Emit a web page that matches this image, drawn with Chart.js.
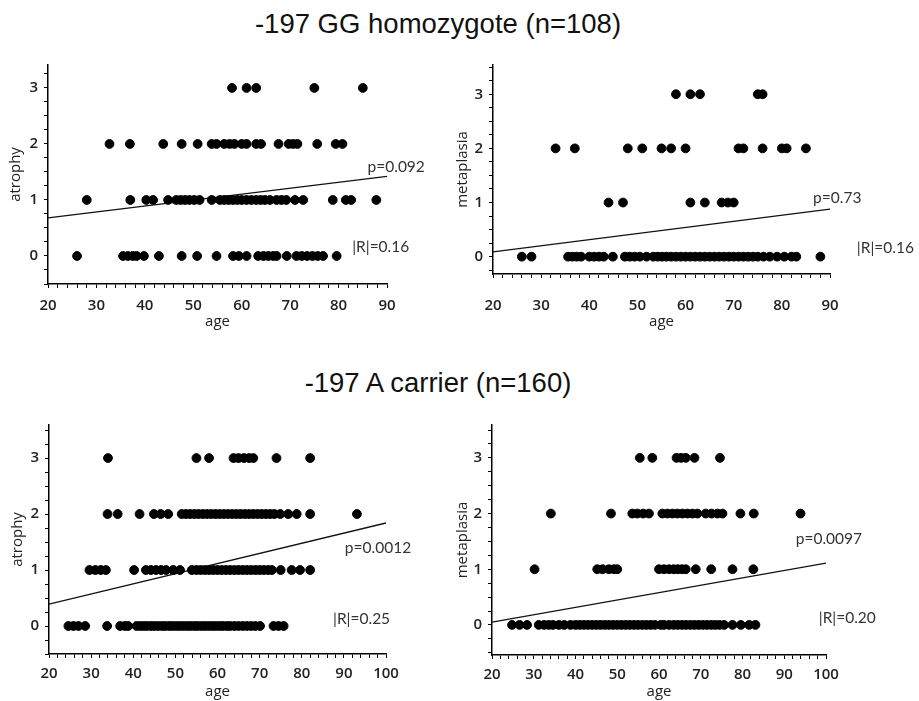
<!DOCTYPE html>
<html>
<head>
<meta charset="utf-8">
<script src="https://cdn.jsdelivr.net/npm/chart.js@4.4.1/dist/chart.umd.min.js"></script>
<style>
  body { margin: 0; background: #fff; width: 919px; height: 701px; position: relative; overflow: hidden; }
  .title { position: absolute; left: 0; width: 876px; text-align: center; font: 27.5px "Liberation Sans", Arial, sans-serif; line-height: 26px; color: #111; }
  .box { position: absolute; }
</style>
</head>
<body>
<div class="title" style="top:11px">-197 GG homozygote (n=108)</div>
<div class="title" style="top:370px">-197 A carrier (n=160)</div>
<div class="box" style="left:0;top:50px"><canvas id="c1" width="450" height="290"></canvas></div>
<div class="box" style="left:450px;top:50px"><canvas id="c2" width="469" height="290"></canvas></div>
<div class="box" style="left:0;top:410px"><canvas id="c3" width="450" height="291"></canvas></div>
<div class="box" style="left:450px;top:410px"><canvas id="c4" width="469" height="291"></canvas></div>
<script>
// ages at each grade (0..3)

// -197 GG homozygote, atrophy
const ggAtrophy0 = [26, 35.5, 36.5, 37.5, 38.3, 39.8, 42.9, 47.6, 50.8, 54.8, 58.2, 59.4, 61, 63.4, 64.5, 65.5, 66.5, 67.2, 69.3, 71.3, 72.4, 73.5, 74.6, 75.7, 76.8, 79.6]
const ggAtrophy1 = [28, 37, 40.3, 41.7, 44.8, 46.5, 47.4, 48.3, 49.2, 50.2, 51.3, 53.8, 55.5, 56.4, 57.3, 58.2, 59.1, 60, 61, 62, 63, 63.9, 64.8, 65.8, 67.2, 68.2, 69.2, 71, 72.7, 78.8, 81.5, 82.6, 87.8]
const ggAtrophy2 = [32.7, 36.9, 43.8, 47.6, 50.9, 53.8, 54.8, 56.4, 57.5, 58.5, 60, 61, 63, 64, 67.6, 69.7, 70.6, 71.5, 75.6, 79.4, 80.8]
const ggAtrophy3 = [58, 61, 63, 75, 85]
const ggAtrophyFit = [0.68, 1.42]

// -197 GG homozygote, metaplasia
const ggMeta0 = [26, 28, 35.6, 36.5, 37.4, 38.3, 40, 41, 42, 43, 44.9, 47.4, 48.4, 49.4, 50.5, 51.9, 53.3, 54.2, 55.1, 56, 57, 58, 59, 60, 61, 62, 63, 64, 65, 66, 67, 68, 69, 70, 71, 72, 73, 74, 75, 76.2, 77.5, 79, 80.5, 82, 83, 88]
const ggMeta1 = [44, 47, 61, 64, 67.5, 68.8, 70]
const ggMeta2 = [33, 37, 48, 51, 55, 57, 60, 71, 72, 76, 80, 81, 85]
const ggMeta3 = [58, 61, 63, 75, 76]
const ggMetaFit = [0.09, 0.88]

// -197 A carrier, atrophy
const aAtrophy0 = [24.6, 25.8, 27, 28.6, 33.8, 36.9, 38, 38.8, 40.8, 41.7, 42.5, 43.3, 44.2, 45, 45.9, 46.8, 47.6, 48.5, 49.3, 50.2, 51, 51.9, 52.8, 53.6, 54.5, 55.3, 56.2, 57, 57.9, 58.8, 59.6, 60.5, 61.3, 62.2, 63, 64, 65, 66, 67, 68, 69, 70.1, 73.3, 74.5, 75.7]
const aAtrophy1 = [29.6, 31, 32.3, 33.5, 40.2, 43, 44.2, 45.4, 46.6, 47.8, 49.5, 51.1, 53.9, 55, 56, 57, 58, 59, 60, 61, 62, 63, 64, 65, 66, 67, 68, 69, 70, 71, 72, 72.9, 75, 77.6, 79.6, 82]
const aAtrophy2 = [33.9, 36.3, 41.5, 44.9, 46.5, 48.3, 51.5, 52.5, 53.5, 54.5, 55.5, 56.5, 57.5, 58.5, 59.5, 60.5, 61.5, 62.5, 63.5, 64.5, 65.5, 66.5, 67.5, 68.5, 69.5, 70.5, 71.5, 72.5, 73.5, 74.9, 76.8, 78.8, 82, 93.1]
const aAtrophy3 = [34, 55, 58, 63.8, 65, 66.3, 67.5, 68.5, 74, 82]
const aAtrophyFit = [0.39, 1.84]

// -197 A carrier, metaplasia
const aMeta0 = [24.8, 26.6, 28.4, 31.2, 32.5, 33.6, 34.6, 36, 37.3, 38.8, 40, 41, 42, 43, 44, 45, 46, 47, 48, 49, 50, 51, 52, 53, 54, 55, 56, 57, 58, 59, 60.4, 61.2, 62.4, 63.5, 64.5, 65.5, 66.5, 67.5, 68.5, 69.5, 70.5, 71.5, 72.5, 73.5, 74.5, 75.6, 77.6, 79.6, 81.6, 83.1]
const aMeta1 = [30.2, 45.2, 46.5, 48, 49.2, 50, 60, 61.2, 62.4, 63.5, 64.5, 65.5, 66.4, 68.8, 72.5, 77.6, 82.6]
const aMeta2 = [34.1, 48.5, 53.6, 54.8, 56.2, 57.6, 60.8, 62, 63.2, 64.4, 65.6, 66.8, 68, 69.2, 71.2, 72.6, 74, 75.2, 79.5, 82.7, 93.9]
const aMeta3 = [55.4, 58.4, 64.2, 65.3, 66.4, 68.5, 74.6]
const aMetaFit = [0.05, 1.11]

const tickFont = {family: '"Open Sans", sans-serif', size: 15, weight: '600'}
const axisFont = {family: '"Open Sans", sans-serif', size: 15}
const noteFont = '15.5px Lato, "Open Sans", sans-serif'

// p value / |R| text, placed in data units of each panel
const notesPlugin = {
  id: 'notes',
  afterDatasetsDraw(chart, args, opts) {
    const {ctx, scales} = chart
    ctx.save()
    ctx.font = noteFont
    ctx.fillStyle = '#333'
    ctx.textAlign = 'center'
    ctx.textBaseline = 'middle'
    for (const n of opts.items || []) {
      ctx.fillText(n.text, scales.x.getPixelForValue(n.x), scales.y.getPixelForValue(n.y))
    }
    ctx.restore()
  }
}

function makePanel(id, o) {
  const points = o.rows.flatMap((ages, grade) => ages.map(a => ({x: a, y: grade})))
  return new Chart(document.getElementById(id), {
    type: 'scatter',
    data: {
      datasets: [
        {
          data: points,
          backgroundColor: '#000',
          borderColor: '#000',
          pointRadius: 4.4,
          pointHoverRadius: 4.4,
        },
        {
          type: 'line',
          data: [{x: o.xMin, y: o.fit[0]}, {x: o.xMax, y: o.fit[1]}],
          borderColor: '#111',
          borderWidth: 1.3,
          pointRadius: 0,
          fill: false,
        },
      ]
    },
    options: {
      responsive: false,
      animation: false,
      devicePixelRatio: 1,
      layout: {padding: {left: 0, right: o.padRight, top: o.padTop, bottom: 0}},
      plugins: {
        legend: {display: false},
        tooltip: {enabled: false},
        notes: {items: o.notes},
      },
      scales: {
        x: {
          type: 'linear',
          min: o.xMin,
          max: o.xMax,
          afterFit: s => { s.height = o.xHeight },
          border: {color: '#000', width: 1.5},
          grid: {drawOnChartArea: false, tickLength: 4, color: '#000'},
          ticks: {
            stepSize: 2,
            autoSkip: false,
            maxRotation: 0,
            includeBounds: false,
            padding: o.xTickPad,
            font: tickFont,
            color: '#222',
            callback: v => v % 10 === 0 ? v : '',
          },
          title: {display: true, text: 'age', font: axisFont, color: '#222', padding: {top: 0, bottom: o.xTitlePad}},
        },
        y: {
          min: o.yMin,
          max: o.yMax,
          afterFit: s => { s.width = o.yWidth },
          border: {color: '#000', width: 1.5},
          grid: {drawOnChartArea: false, tickLength: 4, color: '#000'},
          ticks: {
            stepSize: 0.25,
            autoSkip: false,
            includeBounds: false,
            padding: 6,
            font: tickFont,
            color: '#222',
            callback: v => Number.isInteger(v) && v >= 0 ? v : '',
          },
          title: {display: true, text: o.yLabel, font: axisFont, color: '#222', padding: {top: o.yTitlePad, bottom: 0}},
        },
      }
    },
    plugins: [notesPlugin],
  })
}

makePanel('c1', {
  rows: [ggAtrophy0, ggAtrophy1, ggAtrophy2, ggAtrophy3], fit: ggAtrophyFit,
  yLabel: 'atrophy', xMin: 20, xMax: 90, yMin: -0.5, yMax: 3.41,
  yWidth: 48, xHeight: 56, padRight: 63, padTop: 15, xTickPad: 9, xTitlePad: 9, yTitlePad: 7,
  notes: [{text: 'p=0.092', x: 91.9, y: 1.59}, {text: '|R|=0.16', x: 88.7, y: 0.155}],
})

makePanel('c2', {
  rows: [ggMeta0, ggMeta1, ggMeta2, ggMeta3], fit: ggMetaFit,
  yLabel: 'metaplasia', xMin: 20, xMax: 90, yMin: -0.32, yMax: 3.54,
  yWidth: 43, xHeight: 66, padRight: 89, padTop: 8, xTickPad: 19, xTitlePad: 9, yTitlePad: 4,
  notes: [{text: 'p=0.73', x: 91.5, y: 1.08}, {text: '|R|=0.16', x: 101.5, y: 0.16}],
})

makePanel('c3', {
  rows: [aAtrophy0, aAtrophy1, aAtrophy2, aAtrophy3], fit: aAtrophyFit,
  yLabel: 'atrophy', xMin: 20, xMax: 100, yMin: -0.5, yMax: 3.59,
  yWidth: 49, xHeight: 47, padRight: 64, padTop: 15, xTickPad: 7, xTitlePad: 0, yTitlePad: 9,
  notes: [{text: 'p=0.0012', x: 98.1, y: 1.39}, {text: '|R|=0.25', x: 94.2, y: 0.125}],
})

makePanel('c4', {
  rows: [aMeta0, aMeta1, aMeta2, aMeta3], fit: aMetaFit,
  yLabel: 'metaplasia', xMin: 20, xMax: 100, yMin: -0.54, yMax: 3.59,
  yWidth: 42, xHeight: 46, padRight: 93, padTop: 15, xTickPad: 7, xTitlePad: 0, yTitlePad: 4,
  notes: [{text: 'p=0.0097', x: 100.7, y: 1.545}, {text: '|R|=0.20', x: 105.1, y: 0.12}],
})
</script>
</body>
</html>
